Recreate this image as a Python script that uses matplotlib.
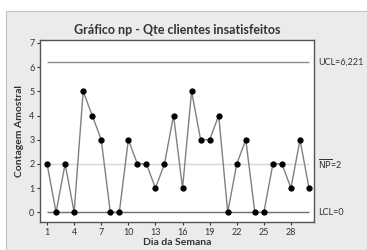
import matplotlib
matplotlib.use('Agg')
import matplotlib.pyplot as plt
from matplotlib.patches import Rectangle
import numpy as np

plt.rcParams['font.family'] = ['Lato', 'DejaVu Sans']

# data
dias = np.arange(1, 31)
contagem = [2, 0, 2, 0, 5, 4, 3, 0, 0, 3,
            2, 2, 1, 2, 4, 1, 5, 3, 3, 4,
            0, 2, 3, 0, 0, 2, 2, 1, 3, 1]
ucl = 6.221
np_bar = 2
lcl = 0
xticks = np.arange(1, 29, 3)
yticks = np.arange(0, 8)

W, H = 367, 250
fig = plt.figure(figsize=(W / 100, H / 100), dpi=100, facecolor='white')

# grey panel behind the chart
fig.patches.append(Rectangle((6 / W, 0), 1, (H - 11) / H, transform=fig.transFigure,
                             facecolor='#ebebeb', edgecolor='#c4c4c4', linewidth=0.8,
                             zorder=-5))

ax = fig.add_axes([40 / W, 1 - 222 / H, (314 - 40) / W, (222 - 40) / H])
ax.set_facecolor('white')

ax.hlines(ucl, 1, 30, color='#8c8c8c', lw=1.0)
ax.hlines(np_bar, 1, 30, color='#d6d6d6', lw=1.0)
ax.hlines(lcl, 1, 30, color='#6e6e6e', lw=1.0)
ax.plot(dias, contagem, color='#808080', lw=1.0, marker='o', ms=3.5,
        mfc='black', mec='black', zorder=3)

ax.set_xlim(0.22, 30.55)
ax.set_ylim(-0.4, 7.12)
ax.set_xticks(xticks)
ax.set_yticks(yticks)
ax.tick_params(labelsize=6.5, length=2.5, width=0.8, colors='#333333', pad=1.5)
for s in ax.spines.values():
    s.set_color('#555555')
    s.set_linewidth(1.0)

ax.set_title('Gráfico np - Qte clientes insatisfeitos', fontsize=9, fontweight='bold',
             color='#333333', pad=4)
ax.set_xlabel('Dia da Semana', fontsize=7.5, fontweight='bold', color='#333333', labelpad=1)
ax.set_ylabel('Contagem Amostral', fontsize=7.5, fontweight='bold', color='#333333', labelpad=4)

tr = ax.get_yaxis_transform()
ax.text(1.015, ucl, 'UCL=6,221', transform=tr, fontsize=6.5, color='#333333', va='center')
ax.text(1.015, np_bar, r'$\overline{\mathrm{NP}}$=2', transform=tr, fontsize=6.5,
        color='#333333', va='center')
ax.text(1.015, lcl, 'LCL=0', transform=tr, fontsize=6.5, color='#333333', va='center')

fig.savefig('out.png', dpi=100)
